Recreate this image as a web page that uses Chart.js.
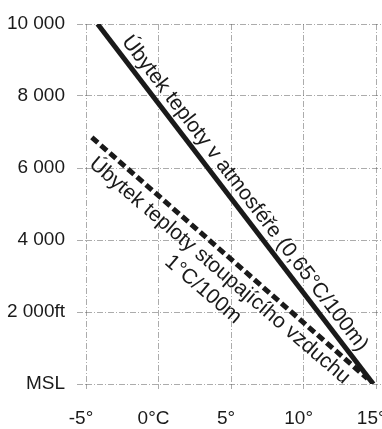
<!DOCTYPE html>
<html>
<head>
<meta charset="utf-8">
<script src="https://cdn.jsdelivr.net/npm/chart.js@4"></script>
<style>
  html, body { margin: 0; padding: 0; background: #fff; }
  canvas { display: block; }
</style>
</head>
<body>
<canvas id="myChart" width="382" height="429"></canvas>
<script>
// temperature (°C) vs altitude (ft)
const xTicks = [-5, 0, 5, 10, 15];
const xTickLabels = ['-5°', '0°C', '5°', '10°', '15°'];
const yTicks = [0, 2000, 4000, 6000, 8000, 10000];
const yTickLabels = ['MSL', '2 000ft', '4 000', '6 000', '8 000', '10 000'];

// ambient lapse rate line
const atmosTemp = [-4.2, 14.8];
const atmosAlt = [10000, 0];
// rising air (dry adiabatic) line
const risingTemp = [-4.6, 14.4];
const risingAlt = [6850, 150];

const atmosLabel = ['Úbytek teploty v atmosféře (0,65°C/100m)'];
const risingLabel = ['Úbytek teploty stoupajícího vzduchu', '1°C/100m'];

const ink = '#1a1a1a';
const gridColor = 'rgba(90,90,90,0.5)';
const gridDash = [6, 2, 1, 2];

// text written along a line, s = distance along it, d = offset to the "up" side
const labelsAlongLines = {
    id: 'labelsAlongLines',
    afterDatasetsDraw(chart, args, opts) {
        const ctx = chart.ctx;
        const xs = chart.scales.x, ys = chart.scales.y;
        opts.items.forEach(item => {
            const data = chart.data.datasets[item.dataset].data;
            const a = data[0], b = data[data.length - 1];
            const x0 = xs.getPixelForValue(a.x), y0 = ys.getPixelForValue(a.y);
            const x1 = xs.getPixelForValue(b.x), y1 = ys.getPixelForValue(b.y);
            const ang = Math.atan2(y1 - y0, x1 - x0);
            const ux = Math.cos(ang), uy = Math.sin(ang);
            const nx = Math.sin(ang), ny = -Math.cos(ang);
            ctx.save();
            ctx.font = item.font;
            ctx.fillStyle = ink;
            ctx.textAlign = 'center';
            ctx.textBaseline = 'alphabetic';
            item.lines.forEach((txt, i) => {
                const d = item.d - i * item.gap;
                const px = x0 + item.s * ux + d * nx;
                const py = y0 + item.s * uy + d * ny;
                ctx.save();
                ctx.translate(px, py);
                ctx.rotate(ang + (item.tilt || 0));
                ctx.fillText(txt, 0, 0);
                ctx.restore();
            });
            ctx.restore();
        });
    }
};

const ctx = document.getElementById('myChart');

new Chart(ctx, {
    type: 'scatter',
    data: {
        datasets: [
            {
                label: 'rising',
                data: risingTemp.map((t, i) => ({ x: t, y: risingAlt[i] })),
                showLine: true,
                borderColor: ink,
                borderWidth: 5,
                borderDash: [8, 4],
                borderCapStyle: 'butt',
                pointRadius: 0
            },
            {
                label: 'atmosphere',
                data: atmosTemp.map((t, i) => ({ x: t, y: atmosAlt[i] })),
                showLine: true,
                borderColor: ink,
                borderWidth: 5,
                borderCapStyle: 'butt',
                pointRadius: 0
            }
        ]
    },
    options: {
        responsive: false,
        animation: false,
        devicePixelRatio: 1,
        layout: { padding: { top: 24, right: 0, left: 0, bottom: 0 } },
        plugins: {
            legend: { display: false },
            tooltip: { enabled: false },
            labelsAlongLines: {
                items: [
                    { dataset: 1, lines: atmosLabel, s: 224, d: 8, gap: 0,
                      font: '21px "Liberation Sans", Arial, sans-serif' },
                    { dataset: 0, lines: risingLabel, s: 184, d: -22, gap: 25, tilt: -0.01,
                      font: '21px "Liberation Sans", Arial, sans-serif' }
                ]
            }
        },
        scales: {
            x: {
                type: 'linear',
                min: -5,
                max: 15.4,
                afterBuildTicks: scale => { scale.ticks = xTicks.map(v => ({ value: v })); },
                afterFit: scale => { scale.height = 45; scale.paddingLeft = 0; scale.paddingRight = 0; },
                border: { display: false, dash: gridDash },
                grid: { color: gridColor, lineWidth: 1, tickLength: 5, drawTicks: true, tickBorderDash: gridDash },
                ticks: {
                    padding: 18,
                    labelOffset: -5,
                    maxRotation: 0,
                    color: ink,
                    font: { family: '"Liberation Sans", Arial, sans-serif', size: 19 },
                    callback: v => xTickLabels[xTicks.indexOf(v)]
                }
            },
            y: {
                type: 'linear',
                min: 0,
                max: 10000,
                afterBuildTicks: scale => { scale.ticks = yTicks.map(v => ({ value: v })); },
                afterFit: scale => { scale.width = 86; },
                border: { display: false, dash: gridDash },
                grid: { color: gridColor, lineWidth: 1, tickLength: 9, drawTicks: true, tickBorderDash: gridDash },
                ticks: {
                    padding: 12,
                    color: ink,
                    font: { family: '"Liberation Sans", Arial, sans-serif', size: 19 },
                    callback: v => yTickLabels[yTicks.indexOf(v)]
                }
            }
        }
    },
    plugins: [labelsAlongLines]
});
</script>
</body>
</html>
